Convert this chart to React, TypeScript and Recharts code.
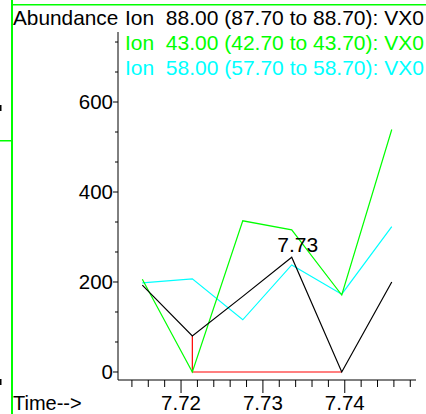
import { LineChart, Line, XAxis, YAxis, ReferenceDot } from "recharts";

// retention times (min) of the scans
const times = [7.71527, 7.72138, 7.72754, 7.73352, 7.73963, 7.74574];
const ion88 = [193, 80, 168, 255, 0, 200];
const ion43 = [206, 0, 336, 316, 171, 539];
const ion58 = [198, 207, 116, 238, 173, 323];

// integration baseline (red)
const baseTimes = [7.72138, 7.72138, 7.73963];
const baseValues = [80, 0, 0];

const peakTime = 7.73352;
const peakValue = 255;
const peakLabel = "7.73";

const xTicks = [
  7.714, 7.716, 7.718, 7.72, 7.722, 7.724, 7.726, 7.728, 7.73, 7.732, 7.734,
  7.736, 7.738, 7.74, 7.742, 7.744, 7.746, 7.748,
];
const xMajor = [7.72, 7.73, 7.74];
const yTicks = [
  0, 66.67, 133.33, 200, 266.67, 333.33, 400, 466.67, 533.33, 600, 666.67,
  733.33,
];
const yMajor = [0, 200, 400, 600];

const ionLabels = [
  "Ion  88.00 (87.70 to 88.70): VX0",
  "Ion  43.00 (42.70 to 43.70): VX0",
  "Ion  58.00 (57.70 to 58.70): VX0",
];
const ionColors = ["#000000", "#00ff00", "#00ffff"];

const FONT = '"Liberation Sans", Arial, sans-serif';

const rows = times.map((t, i) => ({
  t,
  ion88: ion88[i],
  ion43: ion43[i],
  ion58: ion58[i],
}));
const baseRows = baseTimes.map((t, i) => ({ t, base: baseValues[i] }));

const isMajor = (v: number, list: number[]) =>
  list.some((m) => Math.abs(m - v) < 1e-6);

function XTick(props: any) {
  const { x, y, payload } = props;
  const major = isMajor(payload.value, xMajor);
  return (
    <g>
      <line x1={x} x2={x} y1={y} y2={y + (major ? 13 : 7)} stroke="#000" />
      {major && (
        <text
          x={x}
          y={y + 30}
          textAnchor="middle"
          fontSize={20.5}
          fontFamily={FONT}
          fill="#000"
        >
          {payload.value.toFixed(2)}
        </text>
      )}
    </g>
  );
}

function YTick(props: any) {
  const { x, y, payload } = props;
  const major = isMajor(payload.value, yMajor);
  return (
    <g>
      <line x1={x} x2={x - (major ? 5 : 3)} y1={y} y2={y} stroke="#000" />
      {major && (
        <text
          x={x - 5}
          y={y + 7}
          textAnchor="end"
          fontSize={20.5}
          fontFamily={FONT}
          fill="#000"
        >
          {Math.round(payload.value)}
        </text>
      )}
    </g>
  );
}

export default function App() {
  return (
    <div
      style={{
        position: "absolute",
        left: 0,
        top: 0,
        width: 426,
        height: 414,
        background: "#fff",
        overflow: "hidden",
      }}
    >
      <LineChart
        width={426}
        height={414}
        data={rows}
        margin={{ top: 32, right: 10, left: 0, bottom: 0 }}
      >
        <XAxis
          dataKey="t"
          type="number"
          domain={[7.7123, 7.7487]}
          allowDataOverflow
          ticks={xTicks}
          interval={0}
          tickSize={0}
          tickMargin={0}
          tickLine={false}
          axisLine={{ stroke: "#000" }}
          height={34}
          tick={(p: any) => <XTick {...p} />}
        />
        <YAxis
          type="number"
          domain={[-17.8, 755.6]}
          allowDataOverflow
          ticks={yTicks}
          interval={0}
          tickSize={0}
          tickMargin={0}
          tickLine={false}
          axisLine={{ stroke: "#000" }}
          width={118}
          tick={(p: any) => <YTick {...p} />}
        />
        <Line
          data={baseRows}
          dataKey="base"
          type="linear"
          stroke="#ff0000"
          strokeWidth={1.2}
          dot={false}
          isAnimationActive={false}
        />
        <Line
          dataKey="ion58"
          type="linear"
          stroke="#00ffff"
          strokeWidth={1.2}
          dot={false}
          isAnimationActive={false}
        />
        <Line
          dataKey="ion43"
          type="linear"
          stroke="#00ff00"
          strokeWidth={1.2}
          dot={false}
          isAnimationActive={false}
        />
        <Line
          dataKey="ion88"
          type="linear"
          stroke="#000000"
          strokeWidth={1.2}
          dot={false}
          isAnimationActive={false}
        />
        <ReferenceDot
          x={peakTime}
          y={peakValue}
          r={0}
          ifOverflow="visible"
          shape={(p: any) => (
            <text
              x={p.cx + 6}
              y={p.cy - 5}
              textAnchor="middle"
              fontSize={21}
              fontFamily={FONT}
              fill="#000"
            >
              {peakLabel}
            </text>
          )}
        />
      </LineChart>
      <svg
        width={426}
        height={414}
        style={{ position: "absolute", left: 0, top: 0, pointerEvents: "none" }}
      >
        <rect x={11} y={0} width={2} height={414} fill="#00ff00" />
        <rect x={11} y={4} width={415} height={1.5} fill="#00ff00" />
        <rect x={0} y={140} width={11} height={1.5} fill="#00ff00" />
        <rect x={0} y={105} width={1.5} height={6} fill="#000" />
        <rect x={0} y={379} width={1.5} height={6} fill="#000" />
        <text x={13} y={25} fontSize={20.8} fontFamily={FONT} fill="#000">
          Abundance
        </text>
        {ionLabels.map((label, i) => (
          <text
            key={label}
            x={125}
            y={25 + i * 25}
            fontSize={21}
            fontFamily={FONT}
            fill={ionColors[i]}
            style={{ whiteSpace: "pre" }}
          >
            {label}
          </text>
        ))}
        <text x={13} y={410} fontSize={20} fontFamily={FONT} fill="#000">
          {"Time-->"}
        </text>
      </svg>
    </div>
  );
}
